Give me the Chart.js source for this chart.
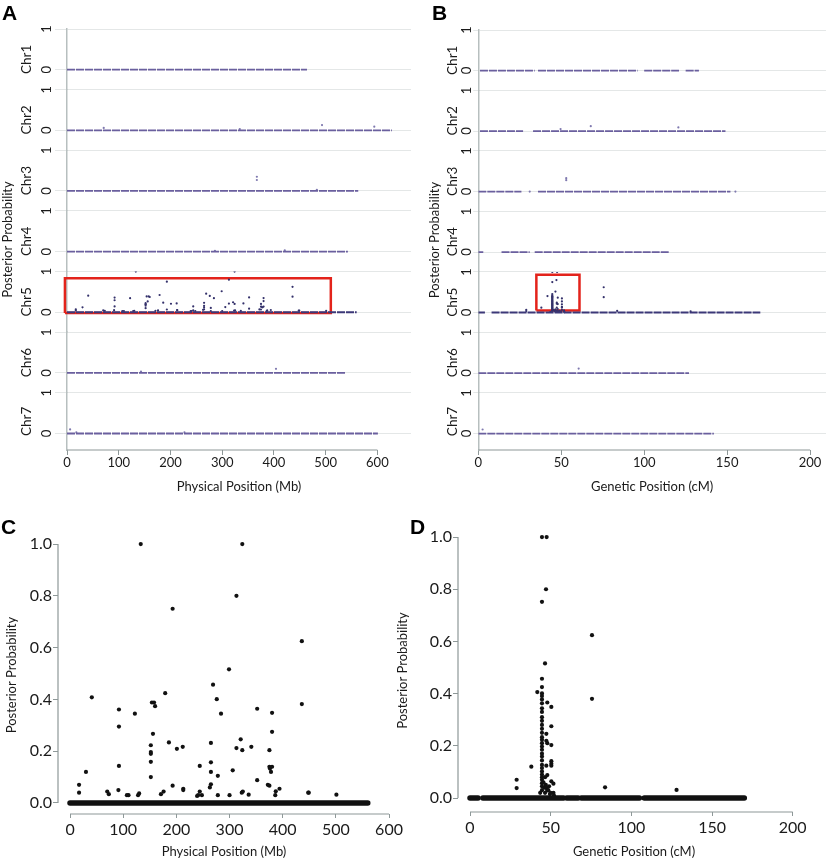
<!DOCTYPE html>
<html>
<head>
<meta charset="utf-8">
<script src="https://cdn.jsdelivr.net/npm/chart.js@4.4.1/dist/chart.umd.min.js"></script>
<style>
  body { margin: 0; background: #fff; }
  #wrap { position: relative; width: 830px; height: 860px; overflow: hidden; }
  canvas { position: absolute; }
  .panel { position: absolute; font: bold 21px "Liberation Sans", Arial, sans-serif; line-height: 1; color: #000; }
</style>
</head>
<body>
<div id="wrap">
  <canvas id="chartA" width="415" height="500" style="left:0;top:0"></canvas>
  <canvas id="chartB" width="415" height="500" style="left:415px;top:0"></canvas>
  <canvas id="chartC" width="410" height="360" style="left:0;top:500px"></canvas>
  <canvas id="chartD" width="440" height="360" style="left:390px;top:500px"></canvas>
  <div class="panel" style="left:2px;top:2px">A</div>
  <div class="panel" style="left:432px;top:2px">B</div>
  <div class="panel" style="left:1px;top:516px">C</div>
  <div class="panel" style="left:410px;top:516px">D</div>
</div>
<script>
// posterior probability of QTL along the 7 chromosomes
const chrNames = ['Chr1', 'Chr2', 'Chr3', 'Chr4', 'Chr5', 'Chr6', 'Chr7'];
const physTicks = [0, 100, 200, 300, 400, 500, 600];
const genTicks = [0, 50, 100, 150, 200];
const probTicks = [0, 0.2, 0.4, 0.6, 0.8, 1.0];

// markers sitting at posterior 0, given as covered ranges [start, end]
const physSpans = [
    [[0, 464]], [[0, 628]], [[0, 563]], [[0, 543]], [[0, 560]], [[0, 539]], [[0, 601]]
];
const genSpans = [
    [[1, 34], [36, 96], [100, 121], [125, 133]],
    [[1, 27], [33, 149]],
    [[0, 26], [36, 152]],
    [[0, 3], [14, 31], [34, 115]],
    [[0, 4], [8, 170]],
    [[0, 127]],
    [[0, 142]]
];

// chr5 in detail (panels C and D)
const chr5PhysHits = [
    [133, 1.0], [324, 1.0], [193, 0.75], [313, 0.8], [436, 0.625], [41, 0.408], [92, 0.361], [92, 0.295],
    [92, 0.143], [122, 0.345], [154, 0.388], [158, 0.388], [160, 0.374], [156, 0.267], [152, 0.223],
    [152, 0.197], [152, 0.19], [152, 0.159], [152, 0.1], [179, 0.424], [186, 0.234], [201, 0.209],
    [212, 0.217], [213, 0.055], [193, 0.067], [30, 0.12], [17, 0.07], [17, 0.04], [244, 0.143],
    [269, 0.457], [276, 0.401], [284, 0.345], [265, 0.232], [265, 0.157], [265, 0.12], [265, 0.072],
    [278, 0.105], [299, 0.516], [306, 0.126], [313, 0.212], [321, 0.246], [324, 0.204], [341, 0.217],
    [325, 0.044], [336, 0.032], [352, 0.364], [352, 0.088], [380, 0.348], [380, 0.275], [375, 0.204],
    [375, 0.14], [376, 0.133], [378, 0.12], [380, 0.14], [375, 0.067], [387, 0.045], [394, 0.055],
    [436, 0.382], [449, 0.04], [501, 0.032], [70, 0.044], [73, 0.034], [110, 0.03], [130, 0.037],
    [176, 0.044], [171, 0.034], [244, 0.044], [239, 0.027], [300, 0.03], [248, 0.03], [91, 0.05],
    [107, 0.03], [128, 0.03], [213, 0.05], [241, 0.03], [263, 0.06], [278, 0.03], [323, 0.04],
    [372, 0.07], [386, 0.03], [448, 0.04]
];
const chr5GenHits = [
    [44.6, 1.0], [47.5, 1.0], [47.1, 0.8], [44.6, 0.752], [75.6, 0.624], [46.5, 0.516], [44.6, 0.457],
    [44.6, 0.425], [41.7, 0.406], [44.6, 0.401], [44.6, 0.391], [44.6, 0.378], [44.6, 0.363],
    [44.6, 0.344], [47.9, 0.366], [50.4, 0.349], [44.6, 0.296], [44.6, 0.265], [50.4, 0.275],
    [47.3, 0.246], [44.6, 0.233], [44.6, 0.223], [44.6, 0.21], [44.6, 0.197], [44.6, 0.185],
    [47.3, 0.219], [47.9, 0.21], [50.4, 0.203], [44.6, 0.159], [44.6, 0.144], [44.6, 0.127],
    [44.6, 0.115], [44.6, 0.102], [50.4, 0.141], [50.4, 0.131], [50.4, 0.124], [38, 0.12],
    [47.3, 0.124], [47.9, 0.088], [44.6, 0.07], [44.6, 0.057], [44.6, 0.045], [50.4, 0.064],
    [51.7, 0.055], [28.9, 0.07], [28.9, 0.038], [75.6, 0.38], [83.7, 0.041], [128, 0.031],
    [47.3, 0.038], [47.9, 0.029], [46.5, 0.02], [49.5, 0.015], [51.7, 0.02], [44.6, 0.03],
    [44.6, 0.09], [44.6, 0.08], [44.6, 0.17], [44.6, 0.25], [44.6, 0.28], [44.6, 0.31], [44.6, 0.33],
    [45.5, 0.06], [46, 0.04], [47, 0.05], [48.5, 0.03], [49, 0.045], [50, 0.02], [52, 0.01],
    [43.5, 0.02], [46.5, 0.08]
];
const chr5PhysBase = [[0, 560]];
const chr5GenBase = [[0, 5], [8, 58], [60, 67], [69, 105], [108, 170]];

// scattered non-zero markers on the other chromosomes [position, probability]
const physHits = [
    [],
    [[71, 0.06], [334, 0.03], [493, 0.13], [594, 0.09]],
    [[367, 0.35], [367, 0.27], [483, 0.03]],
    [[286, 0.02], [421, 0.03]],
    chr5PhysHits,
    [[143, 0.03], [404, 0.1]],
    [[6, 0.1], [18, 0.03], [227, 0.03]]
];
const genHits = [
    [],
    [[49.6, 0.05], [67.8, 0.12], [120.6, 0.09]],
    [[53, 0.33], [53, 0.28], [31, 0], [155, 0]],
    [],
    chr5GenHits,
    [[60.5, 0.11]],
    [[2.6, 0.1]]
];

// highlighted region on chr5 (corners, closed)
const physBox = [[-4, -0.02], [510, -0.02], [510, 0.835], [-4, 0.835], [-4, -0.02]];
const genBox = [[35, 0.05], [61, 0.05], [61, 0.93], [35, 0.93], [35, 0.05]];

Chart.defaults.font.family = 'Lato, "Open Sans", sans-serif';
Chart.defaults.color = '#1a1a1a';

// axis line drawn only between the first and last tick
const axisLines = {
    id: 'axisLines',
    afterDatasetsDraw(chart, args, opts) {
        const ctx = chart.ctx;
        ctx.save();
        ctx.strokeStyle = opts.color;
        ctx.lineWidth = opts.width;
        (opts.ids || []).forEach(function (id) {
            const s = chart.scales[id];
            const a = s.getPixelForValue(s.ticks[0].value);
            const b = s.getPixelForValue(s.ticks[s.ticks.length - 1].value);
            ctx.beginPath();
            if (s.isHorizontal()) { ctx.moveTo(a, s.top); ctx.lineTo(b, s.top); }
            else { ctx.moveTo(s.right, a); ctx.lineTo(s.right, b); }
            ctx.stroke();
        });
        ctx.restore();
    }
};

const pts = arr => arr.map(p => ({ x: p[0], y: p[1] }));

function stripChart(id, c) {
    const datasets = [];
    chrNames.forEach(function (name, i) {
        const yId = 'c' + i;
        c.spans[i].forEach(function (s) {
            datasets.push({
                data: [{ x: s[0], y: 0 }, { x: s[1], y: 0 }], yAxisID: yId, showLine: true,
                borderColor: i === 4 ? '#3c3878' : '#6a5f9e', borderWidth: i === 4 ? 2 : 1.8,
                borderDash: [8, 1], pointRadius: 0
            });
        });
        datasets.push({
            data: pts(c.hits[i]), yAxisID: yId, pointRadius: 1.1,
            pointBackgroundColor: i === 4 ? '#34316b' : '#7f79af', pointBorderWidth: 0
        });
    });
    datasets.push({
        data: pts(c.box), yAxisID: 'c4', showLine: true, borderColor: '#e3231b',
        borderWidth: 2.5, pointRadius: 0, clip: false
    });

    const scales = {
        x: {
            type: 'linear', min: 0, max: c.xMax,
            afterBuildTicks: s => { s.ticks = c.xTicks.map(v => ({ value: v })); },
            grid: { drawOnChartArea: false, tickLength: 5, color: '#8e9898' },
            border: { display: false },
            ticks: { padding: 0, font: { size: 13 } },
            title: { display: true, text: c.xTitle, font: { size: 13 }, padding: { top: 0, bottom: 5 } },
            afterFit: s => { s.height = 50; }
        },
        pp: {
            type: 'linear', position: 'left', weight: 2,
            grid: { display: false }, border: { display: false }, ticks: { display: false },
            title: { display: true, text: 'Posterior Probability', font: { size: 13 }, padding: { top: c.ppPad, bottom: 0 } },
            afterFit: s => { s.width = 17; }
        }
    };
    for (let i = chrNames.length - 1; i >= 0; i--) {
        const min = i === chrNames.length - 1 ? -0.405 : -0.49;
        scales['c' + i] = {
            type: 'linear', position: 'left', stack: 'chr', stackWeight: 1 - min, weight: 1,
            min: min, max: 1,
            afterBuildTicks: s => { s.ticks = [{ value: 0 }, { value: 1 }]; },
            grid: { color: '#e4e7e7', tickLength: c.tl },
            border: { color: '#b7bfbf', width: 1.5 },
            ticks: { minRotation: 90, maxRotation: 90, crossAlign: 'center', padding: c.tickPad, font: { size: 13 } },
            title: { display: true, text: chrNames[i], font: { size: 13.5 }, padding: { top: c.chrPad, bottom: 0 } },
            afterFit: s => { s.width = c.chrWidth; }
        };
    }

    new Chart(document.getElementById(id), {
        type: 'scatter',
        data: { datasets: datasets },
        options: {
            responsive: false, animation: false,
            layout: { padding: { left: c.padLeft, top: c.padTop, right: 0, bottom: 0 } },
            plugins: { legend: { display: false }, tooltip: { enabled: false },
                       axisLines: { ids: ['x'], color: '#8e9898', width: 1.2 } },
            scales: scales
        },
        plugins: [axisLines]
    });
}

function detailChart(id, c) {
    const datasets = c.base.map(s => ({
        data: [{ x: s[0], y: 0 }, { x: s[1], y: 0 }], showLine: true, borderColor: '#111',
        borderWidth: 5.5, borderCapStyle: 'round', pointRadius: 0
    }));
    datasets.push({ data: pts(c.hits), pointRadius: 2.1, pointBackgroundColor: '#111', pointBorderWidth: 0 });

    new Chart(document.getElementById(id), {
        type: 'scatter',
        data: { datasets: datasets },
        options: {
            responsive: false, animation: false,
            layout: { padding: { left: 0, top: c.padTop, right: 20, bottom: 0 } },
            plugins: { legend: { display: false }, tooltip: { enabled: false },
                       axisLines: { ids: ['x', 'y'], color: '#8e9898', width: 1.2 } },
            scales: {
                x: {
                    type: 'linear', min: c.xMin, max: c.xMax,
                    afterBuildTicks: s => { s.ticks = c.xTicks.map(v => ({ value: v })); },
                    grid: { drawOnChartArea: false, tickLength: 4, color: '#8e9898' },
                    border: { display: false },
                    ticks: { padding: 2.4, font: { size: 16 } },
                    title: { display: true, text: c.xTitle, font: { size: 13 }, padding: { top: 0, bottom: 0.2 } },
                    afterFit: s => { s.height = c.xHeight; }
                },
                y: {
                    type: 'linear', min: c.yMin, max: 1.031,
                    afterBuildTicks: s => { s.ticks = probTicks.map(v => ({ value: v })); },
                    grid: { drawOnChartArea: false, tickLength: 5, color: '#8e9898' },
                    border: { display: false },
                    ticks: { padding: 1, font: { size: 16 }, callback: v => Number(v).toFixed(1) },
                    title: { display: true, text: 'Posterior Probability', font: { size: 13 }, padding: { top: c.yTitlePad, bottom: 0 } },
                    afterFit: s => { s.width = c.yWidth; }
                }
            }
        },
        plugins: [axisLines]
    });
}

stripChart('chartA', {
    spans: physSpans, hits: physHits, box: physBox, xTicks: physTicks, xMax: 665,
    xTitle: 'Physical Position (Mb)', padLeft: 0, padTop: 29, ppPad: 0.2,
    chrWidth: 50, chrPad: 2, tl: 12, tickPad: 4.5
});
stripChart('chartB', {
    spans: genSpans, hits: genHits, box: genBox, xTicks: genTicks, xMax: 209.6,
    xTitle: 'Genetic Position (cM)', padLeft: 12, padTop: 30, ppPad: 0,
    chrWidth: 34.3, chrPad: 1, tl: 5, tickPad: 2.8
});
detailChart('chartC', {
    base: chr5PhysBase, hits: chr5PhysHits, xTicks: physTicks, xMin: -22.6, xMax: 601.8,
    xTitle: 'Physical Position (Mb)', yMin: -0.0425, padTop: 36, xHeight: 46, yWidth: 58, yTitlePad: 4.2
});
detailChart('chartD', {
    base: chr5GenBase, hits: chr5GenHits, xTicks: genTicks, xMin: -7.44, xMax: 210.7,
    xTitle: 'Genetic Position (cM)', yMin: -0.0536, padTop: 29, xHeight: 48, yWidth: 68, yTitlePad: 5.2
});
</script>
</body>
</html>
